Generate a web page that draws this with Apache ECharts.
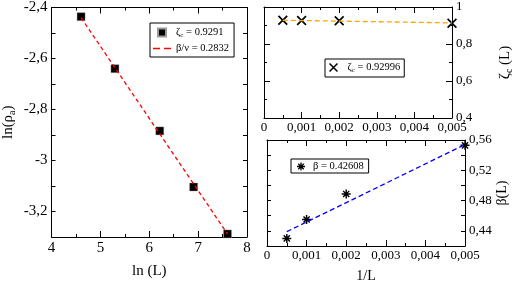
<!DOCTYPE html>
<html><head><meta charset="utf-8">
<script src="https://cdn.jsdelivr.net/npm/echarts@6/dist/echarts.min.js"></script>
<style>html,body{margin:0;padding:0;background:#fff}#c{width:515px;height:284px}</style>
</head><body><div id="c"></div>
<script>
// ---- data ----
const lnL = [4.605, 5.298, 6.215, 6.908, 7.601];
const lnRho = [-2.436, -2.640, -2.884, -3.104, -3.288];
const fitLnL = [4.605, 7.601];
const fitLnRho = [-2.440, -3.288];
const invL = [0.0005, 0.001, 0.002, 0.005];
const zeta = [0.928, 0.927, 0.926, 0.912];
const fitInvL = [0.0005, 0.005];
const zetaFit = [0.9284, 0.914];
const beta = [0.430, 0.455, 0.4887, 0.553];
const betaFit = [0.4389, 0.554];
const lnLTicks = [4, 8, 1];
const lnRhoTicks = [-3.3, -2.4, 0.1];
const invLTicks = [0, 0.005, 0.001];
const zetaTicks = [0.4, 1, 0.2];
const betaTicks = [0.42, 0.56, 0.02];

const zip = (a, b) => a.map((v, i) => [v, b[i]]);
const fmt = v => String(Math.round(v * 1e6) / 1e6).replace('.', ',');
const FONT = 'Liberation Serif';
const SQ = 'path://M0,0 L10,0 L10,10 L0,10 Z';
const DASH = 'path://M0,0 L7,0 L7,1.6 L0,1.6 Z M11,0 L18,0 L18,1.6 L11,1.6 Z';
const CROSS = 'path://M0,1.2 L1.2,0 L10,8.8 L8.8,10 Z M8.8,0 L10,1.2 L1.2,10 L0,8.8 Z';
const STAR = 'path://M4.2,0 L5.8,0 L5.8,10 L4.2,10 Z M0,4.2 L10,4.2 L10,5.8 L0,5.8 Z M1,2.1 L2.1,1 L9,7.9 L7.9,9 Z M7.9,1 L9,2.1 L2.1,9 L1,7.9 Z';

function ax(gi, pos, t, opts) {
  const o = Object.assign({
    type: 'value', gridIndex: gi, position: pos, min: t[0], max: t[1], interval: t[2],
    axisLine: { show: true, onZero: false, lineStyle: { color: '#000', width: 1 } },
    axisTick: { show: true, inside: true, length: 6, lineStyle: { color: '#000' } },
    minorTick: { show: true, splitNumber: 2, length: 3, lineStyle: { color: '#000' } },
    splitLine: { show: false },
    axisLabel: { show: false }
  }, opts || {});
  return o;
}
const lab = (size, margin, extra) => Object.assign({ show: true, fontFamily: FONT, fontSize: size, color: '#000', margin: margin, formatter: fmt, showMinLabel: true, showMaxLabel: true }, extra || {});

const xAxis = [
  ax(0, 'bottom', lnLTicks, { axisLabel: lab(15, 4), name: 'ln (L)', nameLocation: 'middle', nameGap: 27, nameTextStyle: { fontFamily: FONT, fontSize: 15, color: '#000' } }),
  ax(0, 'top', lnLTicks),
  ax(1, 'bottom', invLTicks, { axisLabel: lab(13, 3) }),
  ax(1, 'top', invLTicks),
  ax(2, 'bottom', invLTicks, { axisLabel: lab(13, 3), name: '1/L', nameLocation: 'middle', nameGap: 23, nameTextStyle: { fontFamily: FONT, fontSize: 14, color: '#000' } }),
  ax(2, 'top', invLTicks)
];
const yAxis = [
  ax(0, 'left', lnRhoTicks, {
    minorTick: { show: false },
    axisTick: { show: true, inside: true, length: 4, lineStyle: { color: '#000' } },
    axisLabel: lab(15, 4, { formatter: v => { const r = Math.round(v * 10) / 10; return (Math.round(r * 10) % 2 === 0) ? fmt(r) : ''; } }),
    name: '{a|ln(ρ}{s|a}{a|)}', nameLocation: 'middle', nameGap: 34,
    nameTextStyle: { rich: { a: { fontFamily: FONT, fontSize: 15, color: '#000' }, s: { fontFamily: FONT, fontSize: 10, color: '#000', padding: [8, 0, 0, 0] } } }
  }),
  ax(0, 'right', lnRhoTicks, { minorTick: { show: false }, axisTick: { show: true, inside: true, length: 4, lineStyle: { color: '#000' } } }),
  ax(1, 'right', zetaTicks, {
    axisLabel: lab(13, 4),
    name: '{a|ζ}{s|c}{a| (L)}', nameLocation: 'middle', nameGap: 44,
    nameTextStyle: { rich: { a: { fontFamily: FONT, fontSize: 15, color: '#000' }, s: { fontFamily: FONT, fontSize: 10, color: '#000', padding: [8, 0, 0, 0] } } }
  }),
  ax(1, 'left', zetaTicks),
  ax(2, 'right', betaTicks, {
    minorTick: { show: false },
    axisTick: { show: true, inside: true, length: 4, lineStyle: { color: '#000' } },
    axisLabel: lab(13, 4, { formatter: v => { const r = Math.round(v * 100); return (r % 4 === 0) ? fmt(r / 100) : ''; } }),
    name: 'β(L)', nameLocation: 'middle', nameGap: 30,
    nameTextStyle: { fontFamily: FONT, fontSize: 14, color: '#000' }
  }),
  ax(2, 'left', betaTicks, { minorTick: { show: false }, axisTick: { show: true, inside: true, length: 4, lineStyle: { color: '#000' } } })
];

const richLeg = {
  a: { fontFamily: FONT, fontSize: 10.5, color: '#000' },
  s: { fontFamily: FONT, fontSize: 7, color: '#000', padding: [6, 0, 0, 0] }
};
const legNames = {
  rho: '{a|ζ}{s|c}{a| = 0.9291}',
  rhofit: '{a|β/ν = 0.2832}',
  zeta: '{a|ζ}{s|c}{a| = 0.92996}',
  beta: '{a|β = 0.42608}'
};
const legBase = {
  orient: 'vertical', borderColor: '#000', borderWidth: 1, itemGap: 4,
  formatter: n => legNames[n], textStyle: { rich: richLeg }, itemWidth: 18, itemHeight: 8, borderRadius: 0
};

const option = {
  animation: false,
  backgroundColor: '#fff',
  grid: [
    { left: 49, top: 7, width: 198, height: 244 },
    { left: 264, top: 7, width: 199, height: 111 },
    { left: 267, top: 140, width: 198, height: 112 }
  ],
  xAxis, yAxis,
  legend: [
    Object.assign({}, legBase, { data: [{ name: 'rho', icon: SQ }, { name: 'rhofit', icon: DASH }], left: 150, top: 23, padding: [4, 5, 3, 3] }),
    Object.assign({}, legBase, { data: ['zeta'], left: 325, top: 59, padding: [3, 4, 3, 4], itemHeight: 9 }),
    Object.assign({}, legBase, { data: ['beta'], left: 291, top: 159, padding: [2, 5, 1, 6], itemWidth: 14, itemHeight: 8 })
  ],
  series: [
    { name: 'rhofit', type: 'line', xAxisIndex: 0, yAxisIndex: 0, data: zip(fitLnL, fitLnRho), symbol: 'none', z: 3,
      lineStyle: { color: '#ff0000', width: 1.3, type: [4, 3] }, itemStyle: { color: '#ff0000' } },
    { name: 'rho', type: 'scatter', xAxisIndex: 0, yAxisIndex: 0, data: zip(lnL, lnRho), symbol: SQ, symbolSize: 8, z: 2,
      itemStyle: { color: '#000', borderColor: '#999', borderWidth: 0.4, opacity: 1 } },
    { name: 'zetafit', type: 'line', xAxisIndex: 2, yAxisIndex: 2, data: zip(fitInvL, zetaFit), symbol: 'none',
      lineStyle: { color: '#ffa500', width: 1.3, type: [5, 3] } },
    { name: 'zeta', type: 'scatter', xAxisIndex: 2, yAxisIndex: 2, data: zip(invL, zeta), symbol: CROSS, symbolSize: 10,
      itemStyle: { color: '#000', opacity: 1 } },
    { name: 'betafit', type: 'line', xAxisIndex: 4, yAxisIndex: 4, data: zip(fitInvL, betaFit), symbol: 'none',
      lineStyle: { color: '#0000ff', width: 1.3, type: [5, 3] } },
    { name: 'beta', type: 'scatter', xAxisIndex: 4, yAxisIndex: 4, data: zip(invL, beta), symbol: STAR, symbolSize: 9,
      itemStyle: { color: '#000', opacity: 1 } }
  ]
};
const chart = echarts.init(document.getElementById('c'), null, { renderer: 'canvas' });
chart.setOption(option);
</script></body></html>
